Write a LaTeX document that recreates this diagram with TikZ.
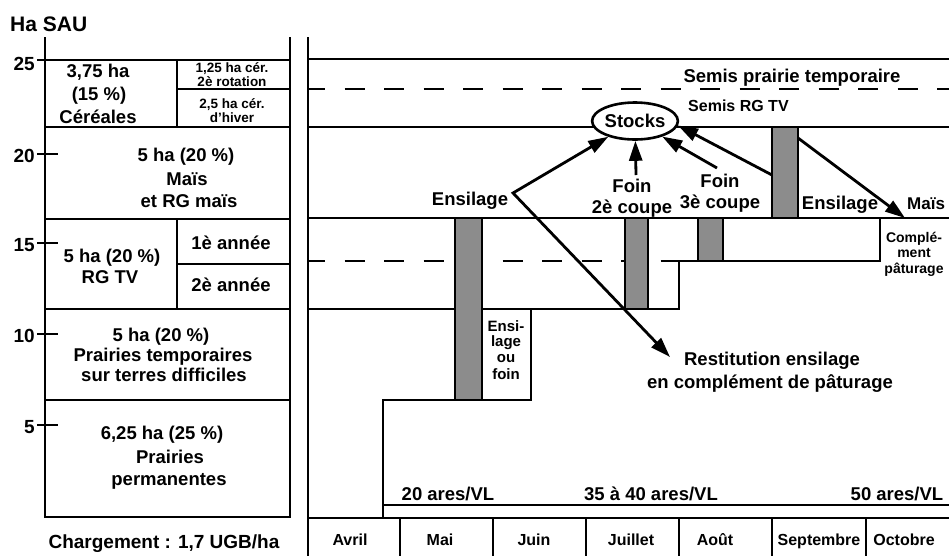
\documentclass[tikz,border=0pt]{standalone}
\usepackage{fontspec}
\setmainfont{Liberation Sans}
\usetikzlibrary{arrows.meta,shapes.geometric}
\tikzset{
  ln/.style={line width=2.9pt, line cap=rect},
  dsh/.style={line width=2.9pt, dash pattern=on 20pt off 19.5pt, dash phase=3pt},
  barbox/.style={fill=black!45, draw=black, line width=2.4pt},
  txt/.style={font=\bfseries\fontsize{18.5}{21}\selectfont, inner sep=0pt, anchor=base},
  btxt/.style={font=\bfseries\fontsize{19}{21}\selectfont, inner sep=0pt, anchor=base},
  stxt/.style={font=\bfseries\fontsize{13.5}{15}\selectfont, inner sep=0pt, anchor=base},
  ctxt/.style={font=\bfseries\fontsize{14}{15}\selectfont, inner sep=0pt, anchor=base},
  etxt/.style={font=\bfseries\fontsize{15}{17}\selectfont, inner sep=0pt, anchor=base},
  mtxt/.style={font=\bfseries\fontsize{16}{17}\selectfont, inner sep=0pt, anchor=base},
  arr/.style={line width=2.8pt, -{Triangle[length=20pt,width=13pt]}},
}
\begin{document}
\begin{tikzpicture}[x=1pt,y=-1pt]
\useasboundingbox (0,0) rectangle (949,555);
\clip (0,0) rectangle (949,555);
\fill[white] (0,0) rectangle (949,555);

% ---------------- left panel ----------------
\node[btxt, anchor=base west] (hasau) at (10,31) {\fontsize{21}{23}\selectfont Ha SAU};
\draw[ln] (45,38) -- (45,517) -- (290,517) -- (290,38);
\draw[ln] (38,60) -- (290,60);
\draw[ln] (45,127) -- (290,127);
\draw[ln] (45,219) -- (290,219);
\draw[ln] (45,309) -- (290,309);
\draw[ln] (45,400) -- (290,400);
\draw[ln] (177,60) -- (177,127);
\draw[line width=2.4pt] (177,89) -- (290,89);
\draw[ln] (177,219) -- (177,309);
\draw[line width=2.4pt] (177,264) -- (290,264);
\foreach \yy in {154,243,334,425} \draw[ln] (38,\yy) -- (57,\yy);

\node[btxt, anchor=base east] (t25) at (35,70) {25};
\node[btxt, anchor=base east] (t20) at (35,162) {20};
\node[btxt, anchor=base east] (t15) at (35,251) {15};
\node[btxt, anchor=base east] (t10) at (35,342) {10};
\node[btxt, anchor=base east] (t5)  at (35,433) {5};

\node[txt] (c1) at (98,77) {3,75 ha};
\node[txt] (c2) at (99,100) {(15 \%)};
\node[txt] (c3) at (98,123) {Céréales};
\node[stxt] (c4) at (232,72) {1,25 ha cér.};
\node[stxt] (c5) at (232,86) {2è rotation};
\node[stxt] (c6) at (232,108) {2,5 ha cér.};
\node[stxt] (c7) at (232,122) {d'hiver};

\node[txt] (m1) at (186,161) {5 ha (20 \%)};
\node[txt] (m2) at (187,185) {Maïs};
\node[txt] (m3) at (189,207) {et RG maïs};

\node[txt] (r1) at (112,262) {5 ha (20 \%)};
\node[txt] (r2) at (110,283) {RG TV};
\node[txt] (r3) at (231,249) {1è année};
\node[txt] (r4) at (231,291) {2è année};

\node[txt] (p1) at (161,341) {5 ha (20 \%)};
\node[txt] (p2) at (163,361) {Prairies temporaires};
\node[txt] (p3) at (164,381) {sur terres difficiles};

\node[txt] (q1) at (162,439) {6,25 ha (25 \%)};
\node[txt] (q2) at (170,463) {Prairies};
\node[txt] (q3) at (169,485) {permanentes};

\node[btxt] (charg) at (164,548) {Chargement : 1,7 UGB/ha};

% ---------------- right panel ----------------
\draw[ln] (308,38) -- (308,560);
\draw[ln] (308,59) -- (955,59);
\draw[dsh] (308,89) -- (955,89);
\draw[ln] (308,127) -- (955,127);
\draw[ln] (308,218) -- (955,218);
\draw[dsh] (308,261) -- (679,261);
\draw[ln, line join=miter] (308,309) -- (679,309) -- (679,261) -- (880,261) -- (880,218);
\draw[ln, line join=miter] (383,518) -- (383,400) -- (531,400) -- (531,309);
\draw[ln] (383,505) -- (955,505);
\draw[ln] (308,518) -- (955,518);
\foreach \xx in {400,493,586,679,772,866} \draw[ln] (\xx,518) -- (\xx,560);

% bars
\draw[barbox] (455,218) rectangle (482,400);
\draw[barbox] (625,218) rectangle (648,309);
\draw[barbox] (698,218) rectangle (723,261);
\draw[barbox] (772,127) rectangle (798,218);

% texts
\node[txt] (semis1) at (792,82) {Semis prairie temporaire};
\node[font=\bfseries\fontsize{16}{17}\selectfont, inner sep=0pt, anchor=base west] (semis2) at (688,111) {Semis RG TV};

\node[draw, ellipse, line width=2.6pt, fill=white, minimum width=84pt, minimum height=37pt, inner sep=0pt,
      font=\bfseries\fontsize{18.5}{21}\selectfont] (stocks) at (635,121) {Stocks};

\node[txt] (ens1) at (470,205) {Ensilage};
\node[txt] (foin2a) at (632,192) {Foin};
\node[txt] (foin2b) at (632,213) {2è coupe};
\node[txt] (foin3a) at (720,187) {Foin};
\node[txt] (foin3b) at (720,208) {3è coupe};
\node[txt] (ens2) at (840,209) {Ensilage};
\node[font=\bfseries\fontsize{17}{20}\selectfont, inner sep=0pt, anchor=base west] (mais) at (907,209) {Maïs};
\node[ctxt] (cp1) at (914,242) {Complé-};
\node[ctxt] (cp2) at (914,257) {ment};
\node[ctxt] (cp3) at (914,273) {pâturage};

\node[etxt] (el1) at (506,331) {Ensi-};
\node[etxt] (el2) at (506,346) {lage};
\node[etxt] (el3) at (506,362) {ou};
\node[etxt] (el4) at (506,379) {foin};

\node[txt] (rest1) at (772,365) {Restitution ensilage};
\node[txt] (rest2) at (770,388) {en complément de pâturage};

\node[txt] (a20) at (448,500) {20 ares/VL};
\node[txt] (a35) at (651,500) {35 à 40 ares/VL};
\node[txt] (a50) at (897,500) {50 ares/VL};

\node[mtxt] (mo1) at (350,545) {Avril};
\node[mtxt] (mo2) at (440,545) {Mai};
\node[mtxt] (mo3) at (534,545) {Juin};
\node[mtxt] (mo4) at (631,545) {Juillet};
\node[mtxt] (mo5) at (715,545) {Août};
\node[mtxt] (mo6) at (819,545) {Septembre};
\node[mtxt] (mo7) at (904,545) {Octobre};

% arrows
\coordinate (ensV) at (513,193);
\coordinate (restTip) at (670,357);
\coordinate (f2tail) at (636,175);
\coordinate (f3tail) at (717,168);
\coordinate (septTail) at (772,175);
\coordinate (septOut) at (798,138);
\coordinate (maisTip) at (905,218);

\draw[line width=2.8pt, line join=miter, {Triangle[length=20pt,width=13pt]}-{Triangle[length=20pt,width=13pt]}]
  (restTip) -- (ensV) -- (stocks);
\draw[arr] (f2tail) -- (stocks);
\draw[arr] (f3tail) -- (stocks);
\draw[arr] (septTail) -- (stocks.-6);
\draw[arr] (septOut) -- (maisTip);
\end{tikzpicture}
\end{document}
